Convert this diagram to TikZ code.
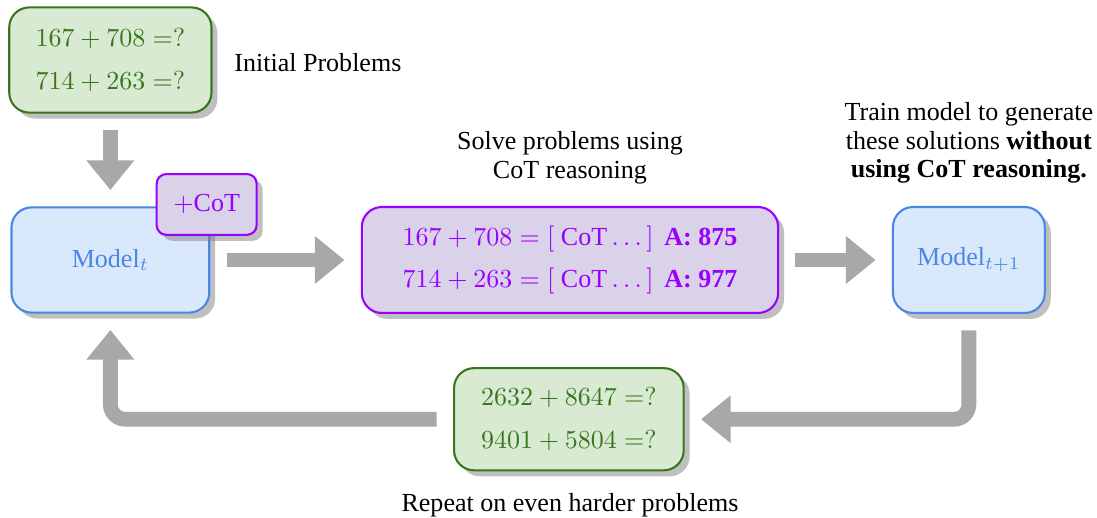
\documentclass[tikz,border=0pt]{standalone}
\usepackage{amsmath}
\usepackage[no-math]{fontspec}
\setmainfont{Liberation Serif}
\usetikzlibrary{arrows.meta,shadows}

\definecolor{probgreen}{RGB}{56,118,29}
\definecolor{probfill}{RGB}{217,234,211}
\definecolor{modelblue}{RGB}{74,134,232}
\definecolor{modelfill}{RGB}{218,232,252}
\definecolor{cotpurple}{RGB}{153,0,255}
\definecolor{cotfill}{RGB}{217,210,233}
\definecolor{flowgray}{RGB}{168,168,168}

\tikzset{
  probbox/.style={draw=probgreen, fill=probfill, text=probgreen, thick, rounded corners=0.27cm, align=center, drop shadow},
  modelbox/.style={draw=modelblue, fill=modelfill, text=modelblue, thick, rounded corners=0.27cm, drop shadow},
  cotbox/.style={draw=cotpurple, fill=cotfill, text=cotpurple, thick, rounded corners=0.27cm, align=center, drop shadow},
  flow/.style={flowgray, line width=0.2cm, -{Triangle[width=0.62cm,length=0.4cm]}, shorten <=0.22cm, shorten >=0.22cm},
  caption/.style={font={\fontsize{10pt}{10.9pt}\selectfont}, align=center}
}

\begin{document}
\begin{tikzpicture}

\useasboundingbox (0,0) rectangle (14.81,-6.99);

\node[probbox, minimum width=2.73cm, minimum height=1.42cm] (init) at (1.49,-0.81) {$167+708=?$\\[4.5pt]$714+263=?$};
\node[caption, anchor=west] (initlabel) at (3.04,-0.84) {Initial Problems};

\node[modelbox, minimum width=2.67cm, minimum height=1.42cm] (model) at (1.49,-3.51) {Model$_t$};
\node[cotbox, rounded corners=0.13cm, minimum width=1.35cm, minimum height=0.82cm] (cot) at (2.79,-2.76) {$+$CoT};

\node[caption] (solvelabel) at (7.695,-2.13) {Solve problems using\\CoT reasoning};
\node[cotbox, minimum width=5.62cm, minimum height=1.43cm] (solve) at (7.695,-3.51) {$167+708=[\text{ CoT}\ldots\,]\ \,\textbf{A: 875}$\\[4.5pt]$714+263=[\text{ CoT}\ldots\,]\ \,\textbf{A: 977}$};

\node[caption] (trainlabel) at (13.08,-1.93) {Train model to generate\\these solutions \textbf{without}\\\textbf{using CoT reasoning.}};
\node[modelbox, minimum width=2.05cm, minimum height=1.43cm] (nextmodel) at (13.08,-3.51) {Model$_{t+1}$};

\node[probbox, minimum width=3.1cm, minimum height=1.38cm] (hard) at (7.68,-5.66) {$2632+8647=?$\\[4.5pt]$9401+5804=?$};
\node[caption] (hardlabel) at (7.695,-6.82) {Repeat on even harder problems};

\draw[flow] (init) -- (model);
\draw[flow] (model) -- (solve);
\draw[flow] (solve) -- (nextmodel);
\draw[flow, rounded corners=0.2cm] (nextmodel.south) |- (hard.east);
\draw[flow, rounded corners=0.2cm] (hard.west) -| (model.south);

\end{tikzpicture}
\end{document}
